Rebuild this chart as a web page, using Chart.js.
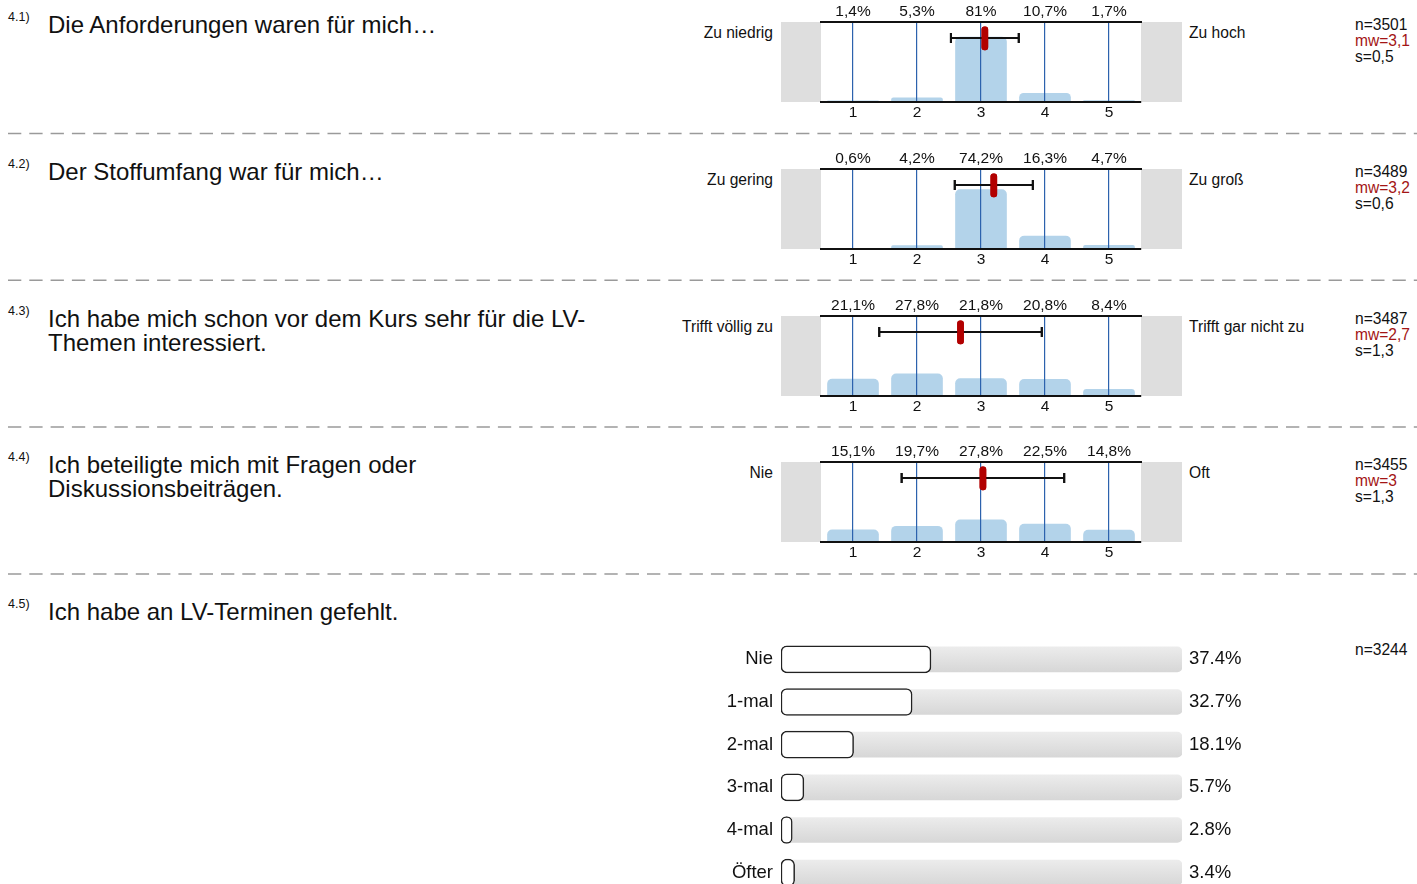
<!DOCTYPE html>
<html><head><meta charset="utf-8">
<script src="https://cdn.jsdelivr.net/npm/chart.js@4.4.1/dist/chart.umd.min.js"></script>
<style>
html,body{margin:0;padding:0;background:#fff;}
body{width:1417px;height:884px;overflow:hidden;position:relative;font-family:"Liberation Sans",Arial,sans-serif;color:#111;}
.abs{position:absolute;white-space:nowrap;}
.qn{font-size:12.5px;line-height:14px;}
.qt{font-size:24px;line-height:24px;}
.lab{font-size:15.6px;line-height:18px;}
.lab.r{text-align:right;}
.stats{font-size:15.6px;line-height:16px;}
.red{color:#a31515;}
canvas{position:absolute;}
svg{position:absolute;left:0;top:0;}
</style></head><body>
<svg id="dash" width="1417" height="884"></svg>
<script>
// ---------- data ----------
const questionNumbers = ['4.1)', '4.2)', '4.3)', '4.4)', '4.5)'];
const questionLines = [
  ['Die Anforderungen waren für mich…'],
  ['Der Stoffumfang war für mich…'],
  ['Ich habe mich schon vor dem Kurs sehr für die LV-', 'Themen interessiert.'],
  ['Ich beteiligte mich mit Fragen oder', 'Diskussionsbeiträgen.'],
  ['Ich habe an LV-Terminen gefehlt.']
];
const scaleCategories = [1, 2, 3, 4, 5];
const pct41 = [1.4, 5.3, 81, 10.7, 1.7];
const pct42 = [0.6, 4.2, 74.2, 16.3, 4.7];
const pct43 = [21.1, 27.8, 21.8, 20.8, 8.4];
const pct44 = [15.1, 19.7, 27.8, 22.5, 14.8];
const meanValues = [3.06, 3.20, 2.68, 3.03];
const sdValues = [0.53, 0.61, 1.27, 1.27];
const leftPoles = ['Zu niedrig', 'Zu gering', 'Trifft völlig zu', 'Nie'];
const rightPoles = ['Zu hoch', 'Zu groß', 'Trifft gar nicht zu', 'Oft'];
const nLabels = ['n=3501', 'n=3489', 'n=3487', 'n=3455'];
const mwLabels = ['mw=3,1', 'mw=3,2', 'mw=2,7', 'mw=3'];
const sLabels = ['s=0,5', 's=0,6', 's=1,3', 's=1,3'];
const absenceCategories = ['Nie', '1-mal', '2-mal', '3-mal', '4-mal', 'Öfter'];
const absencePct = [37.4, 32.7, 18.1, 5.7, 2.8, 3.4];
const absenceN = 'n=3244';

// ---------- setup ----------
const FONT = '"Liberation Sans", Arial, sans-serif';
Chart.defaults.font.family = FONT;
Chart.defaults.color = '#111';
const panelPct = [pct41, pct42, pct43, pct44];
const PANEL_STEP = 146.8;
const GRID_BLUE = '#2c62ad';

function addText(cls, html, style) {
  const d = document.createElement('div');
  d.className = 'abs ' + cls;
  d.innerHTML = html;
  Object.assign(d.style, style);
  document.body.appendChild(d);
  return d;
}
const fmt = v => String(v).replace('.', ',');

// dashed separators
(function(){
  const svg = document.getElementById('dash');
  let s = '';
  for (let i = 0; i < 4; i++) {
    const y = 133.5 + i * PANEL_STEP;
    s += `<line x1="8" y1="${y}" x2="1417" y2="${y}" stroke="#9a9a9a" stroke-width="1.5" stroke-dasharray="13.3 8"/>`;
  }
  svg.innerHTML = s;
})();

// question texts
questionNumbers.forEach((q, i) => {
  const dy = i * PANEL_STEP;
  addText('qn', q, {left: '8px', top: (10 + dy) + 'px'});
  addText('qt', questionLines[i].join('<br>'), {left: '48px', top: (13 + dy) + 'px'});
});

const frontPlugin = {
  id: 'front',
  beforeDraw(chart) {
    const ca = chart.chartArea, c = chart.ctx;
    const opt = chart.options.plugins.front;
    if (!opt || !opt.sides) return;
    c.save();
    c.fillStyle = '#dedede';
    c.fillRect(0, ca.top, ca.left, ca.bottom - ca.top);
    c.fillRect(ca.right, ca.top, chart.width - ca.right, ca.bottom - ca.top);
    c.restore();
  },
  afterDraw(chart) {
    const opt = chart.options.plugins.front;
    if (!opt || !opt.redraw) return;
    opt.redraw.forEach(i => chart.getDatasetMeta(i).controller.draw());
  }
};

function makeHist(i) {
  const pct = panelPct[i], mean = meanValues[i], sd = sdValues[i];
  const top = 22 + i * PANEL_STEP;
  const dy = i * PANEL_STEP;
  const cv = document.createElement('canvas');
  cv.width = 401; cv.height = 122;
  cv.style.left = '781px'; cv.style.top = (top - 22) + 'px';
  cv.style.width = '401px'; cv.style.height = '122px';
  document.body.appendChild(cv);

  addText('lab r', leftPoles[i], {right: (1417 - 773) + 'px', top: (24 + dy) + 'px'});
  addText('lab', rightPoles[i], {left: '1189px', top: (24 + dy) + 'px'});
  addText('stats', nLabels[i] + '<br><span class="red">' + mwLabels[i] + '</span><br>' + sLabels[i],
          {left: '1355px', top: (17 + dy) + 'px'});

  const intTicks = s => { s.ticks = scaleCategories.map(v => ({value: v})); };
  new Chart(cv, {
    type: 'bar',
    data: {
      datasets: [
        {type: 'bar', data: [{x: mean, y: [65, 94]}], backgroundColor: '#b20000',
         barThickness: 6, borderRadius: 3, borderSkipped: false, grouped: false, order: 0},
        {type: 'line', data: [{x: mean - sd, y: 80}, {x: mean + sd, y: 80}],
         borderColor: '#111', borderWidth: 2, pointStyle: 'line', rotation: 90,
         pointRadius: 5, pointBorderWidth: 2, pointBorderColor: '#111', order: 1},
        {type: 'bar', data: scaleCategories.map((c, k) => ({x: c, y: pct[k]})),
         backgroundColor: '#b3d3ea', barThickness: 51,
         borderRadius: {topLeft: 5, topRight: 5, bottomLeft: 0, bottomRight: 0},
         borderSkipped: 'start', grouped: false, order: 2}
      ]
    },
    options: {
      responsive: false, animation: false, devicePixelRatio: 1,
      layout: {padding: {left: 40, right: 41, top: 0, bottom: 0}},
      plugins: {legend: {display: false}, tooltip: {enabled: false},
                front: {sides: true, redraw: [1, 0]}},
      scales: {
        y: {display: false, min: 0, max: 100},
        x: {type: 'linear', position: 'bottom', min: 0.5, max: 5.5, offset: false,
            afterBuildTicks: intTicks, afterFit: s => { s.height = 20; },
            grid: {display: true, offset: false, drawOnChartArea: true, drawTicks: false,
                   color: GRID_BLUE, lineWidth: 1.2, z: 1},
            border: {display: true, color: '#111', width: 2, z: 1},
            ticks: {padding: 1, font: {size: 15.5}, color: '#111', maxRotation: 0, autoSkip: false}},
        x2: {type: 'linear', position: 'top', min: 0.5, max: 5.5, offset: false,
            afterBuildTicks: intTicks, afterFit: s => { s.height = 22; },
            grid: {display: false, offset: false, drawTicks: false},
            border: {display: true, color: '#111', width: 2, z: 1},
            ticks: {padding: 1, font: {size: 15.5}, color: '#111', maxRotation: 0, autoSkip: false,
                    callback: (v, idx) => fmt(pct[idx]) + '%'}}
      }
    },
    plugins: [frontPlugin]
  });
}
for (let i = 0; i < 4; i++) makeHist(i);

// ---------- absence chart ----------
addText('stats', absenceN, {left: '1355px', top: '642px'});
(function(){
  const cv = document.createElement('canvas');
  cv.width = 620; cv.height = 256;
  cv.style.left = '680px'; cv.style.top = '638px';
  cv.style.width = '620px'; cv.style.height = '256px';
  document.body.appendChild(cv);
  const noPad = w => s => { s.width = w; s.paddingTop = 0; s.paddingBottom = 0; };
  new Chart(cv, {
    type: 'bar',
    data: {
      labels: absenceCategories,
      datasets: [
        {data: absencePct, backgroundColor: '#ffffff', borderColor: '#222', borderWidth: 1.5,
         barThickness: 27, borderRadius: 6, borderSkipped: false, grouped: false, order: 0},
        {data: absenceCategories.map(() => 100),
         backgroundColor: (ctx) => {
           const chart = ctx.chart, ys = chart.scales && chart.scales.y;
           if (!ys || ctx.dataIndex === undefined) return '#e0e0e0';
           const py = ys.getPixelForValue(ctx.dataIndex);
           if (!isFinite(py)) return '#e0e0e0';
           const g = chart.ctx.createLinearGradient(0, py - 12.5, 0, py + 12.5);
           g.addColorStop(0, '#ececec'); g.addColorStop(1, '#d7d7d7');
           return g;
         },
         barThickness: 25, borderRadius: 5, borderSkipped: false, grouped: false, order: 1}
      ]
    },
    options: {
      indexAxis: 'y', responsive: false, animation: false, devicePixelRatio: 1,
      layout: {padding: 0},
      plugins: {legend: {display: false}, tooltip: {enabled: false}},
      scales: {
        x: {display: false, min: 0, max: 100},
        y: {position: 'left', afterFit: noPad(101),
            grid: {display: false, drawTicks: false}, border: {display: false},
            ticks: {padding: 8, font: {size: 18.5}, color: '#111'}},
        y2: {type: 'category', position: 'right', offset: true,
             labels: absencePct.map(v => v.toFixed(1) + '%'),
             afterFit: noPad(118),
             grid: {display: false, drawTicks: false}, border: {display: false},
             ticks: {padding: 7, font: {size: 18.5}, color: '#111'}}
      }
    }
  });
})();
</script>
</body></html>
